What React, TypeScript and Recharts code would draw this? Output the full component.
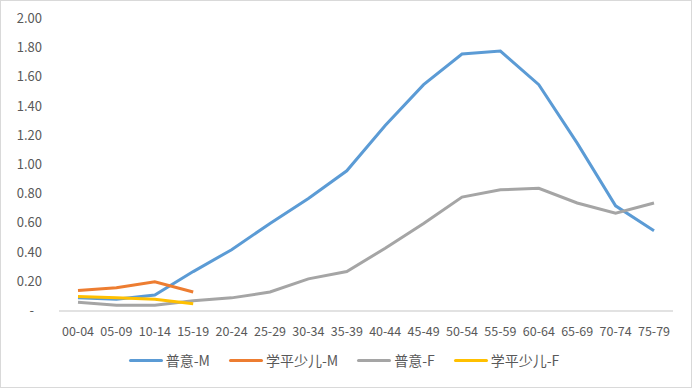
import { LineChart, Line, XAxis, YAxis, Legend } from "recharts"

const ageGroups = [
  "00-04", "05-09", "10-14", "15-19", "20-24", "25-29", "30-34", "35-39", "40-44",
  "45-49", "50-54", "55-59", "60-64", "65-69", "70-74", "75-79",
]

const puyiM = [0.09, 0.08, 0.11, 0.27, 0.42, 0.6, 0.77, 0.96, 1.27, 1.55, 1.76, 1.78, 1.55, 1.15, 0.72, 0.55]
const xuepingM = [0.14, 0.16, 0.2, 0.13]
const puyiF = [0.06, 0.04, 0.04, 0.07, 0.09, 0.13, 0.22, 0.27, 0.43, 0.6, 0.78, 0.83, 0.84, 0.74, 0.67, 0.74]
const xuepingF = [0.1, 0.09, 0.08, 0.05]

const yTicks = [0, 0.2, 0.4, 0.6, 0.8, 1.0, 1.2, 1.4, 1.6, 1.8, 2.0]

const series = [
  { key: "普意-M", color: "#5B9BD5" },
  { key: "学平少儿-M", color: "#ED7D31" },
  { key: "普意-F", color: "#A5A5A5" },
  { key: "学平少儿-F", color: "#FFC000" },
]

const data = ageGroups.map((name, i) => ({
  name,
  "普意-M": puyiM[i],
  "学平少儿-M": xuepingM[i] ?? null,
  "普意-F": puyiF[i],
  "学平少儿-F": xuepingF[i] ?? null,
}))

const font = "'Noto Sans CJK SC', 'Open Sans', sans-serif"

const YTick = (props: any) => {
  const { x, y, payload } = props
  const v = payload.value
  return (
    <text x={v === 0 ? x - 8 : x} y={y} dy={4} textAnchor="end" fill="#595959" fontSize={13} fontFamily={font}>
      {v === 0 ? "-" : v.toFixed(2)}
    </text>
  )
}

const LegendContent = () => (
  <div style={{ display: "flex", justifyContent: "center", paddingTop: 7, paddingLeft: 15, fontFamily: font, fontSize: 14, color: "#595959" }}>
    {series.map((s, i) => (
      <div key={s.key} style={{ display: "flex", alignItems: "center", marginRight: i < series.length - 1 ? 19 : 0 }}>
        <span style={{ display: "inline-block", width: 34, height: 3, background: s.color, borderRadius: 2, marginRight: 3 }} />
        <span>{s.key}</span>
      </div>
    ))}
  </div>
)

export default function App() {
  return (
    <div style={{ position: "absolute", left: 0, top: 0, width: 692, height: 388, boxSizing: "border-box", border: "1px solid #d9d9d9", background: "#fff" }}>
      <div style={{ position: "absolute", left: -1, top: -1 }}>
        <LineChart width={692} height={388} data={data} margin={{ top: 19, right: 19, left: 0, bottom: 0 }}>
          <XAxis
            dataKey="name"
            interval={0}
            height={32}
            padding={{ left: 19, right: 19 }}
            tickLine={false}
            axisLine={{ stroke: "#d9d9d9", strokeWidth: 1.5 }}
            tick={{ fill: "#595959", fontSize: 12.5, fontFamily: font }}
            tickMargin={10}
          />
          <YAxis
            width={59}
            domain={[0, 2]}
            ticks={yTicks}
            axisLine={false}
            tickLine={false}
            tickSize={0}
            tickMargin={17}
            tick={<YTick />}
          />
          <Legend verticalAlign="bottom" height={45} content={<LegendContent />} />
          {series.map((s) => (
            <Line
              key={s.key}
              dataKey={s.key}
              stroke={s.color}
              strokeWidth={3}
              dot={false}
              activeDot={false}
              type="linear"
              isAnimationActive={false}
            />
          ))}
        </LineChart>
      </div>
    </div>
  )
}
